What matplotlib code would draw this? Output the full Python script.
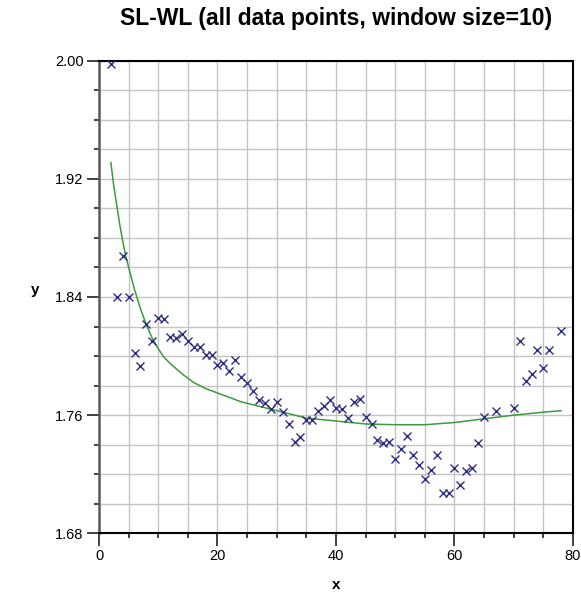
import matplotlib
matplotlib.use("Agg")
import matplotlib.pyplot as plt
from matplotlib.ticker import MultipleLocator

plt.rcParams['font.family'] = ['Liberation Sans', 'DejaVu Sans']

# measured data points (x marks)
x_pts = [2, 3, 4, 5, 6, 7, 8, 9, 10, 11, 12, 13, 14, 15, 16, 17, 18, 19, 20,
         21, 22, 23, 24, 25, 26, 27, 28, 29, 30, 31, 32, 33, 34, 35, 36, 37,
         38, 39, 40, 41, 42, 43, 44, 45, 46, 47, 48, 49, 50, 51, 52, 53, 54,
         55, 56, 57, 58, 59, 60, 61, 62, 63, 64, 65, 67, 70, 71, 72, 73, 74,
         75, 76, 78]
y_pts = [1.998, 1.840, 1.868, 1.840, 1.802, 1.793, 1.822, 1.810, 1.826, 1.825,
         1.813, 1.812, 1.815, 1.810, 1.806, 1.806, 1.801, 1.801, 1.794, 1.795,
         1.790, 1.797, 1.786, 1.782, 1.776, 1.770, 1.768, 1.764, 1.769, 1.762,
         1.754, 1.742, 1.745, 1.757, 1.757, 1.763, 1.766, 1.770, 1.765, 1.764,
         1.758, 1.769, 1.771, 1.759, 1.754, 1.743, 1.741, 1.742, 1.730, 1.737,
         1.746, 1.733, 1.726, 1.717, 1.723, 1.733, 1.707, 1.707, 1.724, 1.713,
         1.722, 1.724, 1.741, 1.759, 1.763, 1.765, 1.810, 1.783, 1.788, 1.804,
         1.792, 1.804, 1.817]

# fitted curve
x_fit = [2, 2.5, 3, 3.5, 4, 4.5, 5, 6, 7, 8, 9, 10, 11, 12, 14, 16, 18, 20,
         22, 24, 27, 31, 35, 40, 45, 50, 55, 60, 65, 70, 75, 78]
y_fit = [1.931, 1.915, 1.902, 1.889, 1.878, 1.868, 1.860, 1.845, 1.832,
         1.821, 1.812, 1.805, 1.799, 1.795, 1.788, 1.782, 1.778, 1.775,
         1.772, 1.769, 1.766, 1.762, 1.758, 1.756, 1.754, 1.7535, 1.7535,
         1.755, 1.7575, 1.760, 1.762, 1.763]


def main():
    fig = plt.figure(figsize=(5.81, 5.92), dpi=100)
    ax = fig.add_axes([0.1704, 0.0992, 0.8158, 0.7983])

    ax.plot(x_fit, y_fit, color="#3c9a3c", lw=1.1, zorder=3)
    ax.plot(x_pts, y_pts, linestyle="none", marker="x", markersize=5.5,
            markeredgewidth=1.0, color="#2e2e86", zorder=4)

    ax.set_xlim(0, 80)
    ax.set_ylim(1.68, 2.00)
    ax.xaxis.set_major_locator(MultipleLocator(20))
    ax.xaxis.set_minor_locator(MultipleLocator(5))
    ax.yaxis.set_major_locator(MultipleLocator(0.08))
    ax.yaxis.set_minor_locator(MultipleLocator(0.02))
    ax.yaxis.set_major_formatter(plt.FormatStrFormatter("%.2f"))

    ax.grid(which="both", color="#c4c4c4", lw=1.0, zorder=0)
    ax.set_axisbelow(True)

    ax.tick_params(which="major", direction="out", length=9, width=1.2,
                   labelsize=10.5, pad=2, color="#222222")
    ax.tick_params(which="minor", direction="out", length=3.5, width=1.2,
                   color="#222222")

    for side in ("top", "bottom", "right"):
        ax.spines[side].set_color("black")
        ax.spines[side].set_linewidth(1.5)
    ax.spines["left"].set_color("#5a5a5a")
    ax.spines["left"].set_linewidth(1.8)

    ax.set_xlabel("x", fontsize=11, fontweight="bold")
    ax.xaxis.set_label_coords(0.5, -0.095)
    ax.set_ylabel("y", fontsize=11, fontweight="bold", rotation=0)
    ax.yaxis.set_label_coords(-0.135, 0.5)

    fig.text(336 / 581, 1 - 19 / 592, "SL-WL (all data points, window size=10)",
             ha="center", va="center", fontsize=16.5, fontweight="bold")

    fig.savefig("out.png", dpi=100)


if __name__ == '__main__':
    main()
